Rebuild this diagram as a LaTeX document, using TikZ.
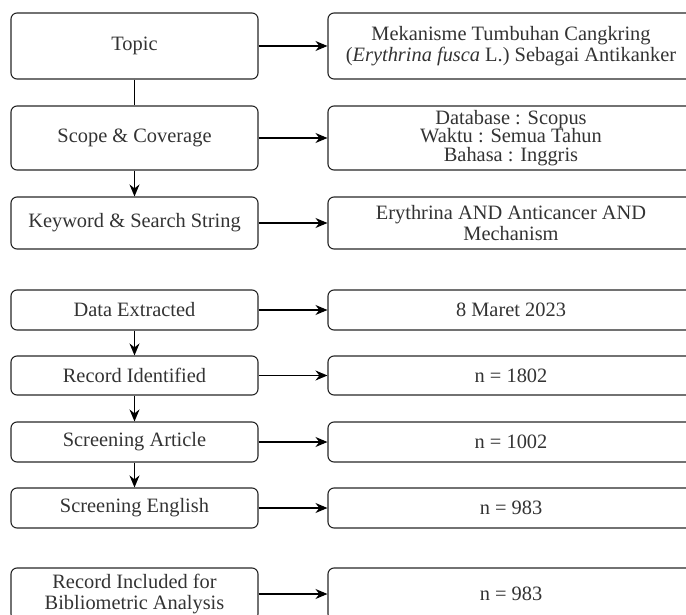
\documentclass[tikz,border=0pt]{standalone}
\usepackage{fontspec}
\setmainfont{Liberation Serif}
\usetikzlibrary{arrows.meta}

\begin{document}
\begin{tikzpicture}[x=0.5pt,y=-0.5pt,
    box/.style={draw=black!85, rounded corners=3pt, line width=0.55pt, align=center,
      inner sep=0pt, font=\fontsize{10.2}{10.6}\selectfont, text=black!80},
    leftbox/.style={box, minimum width=123.5pt},
    rightbox/.style={box, minimum width=183pt},
    arr/.style={-{Stealth[length=6pt,width=5pt]}, line width=0.55pt}]
        % Frame of the picture
        \useasboundingbox (0,0) rectangle (686,615);
        \clip (0,0) rectangle (686,615);

        % Left column
        \node[leftbox, minimum height=33pt] (topic) at (134.5,46) {Topic};
        \node[leftbox, minimum height=32pt] (scope) at (134.5,138) {Scope \& Coverage};
        \node[leftbox, minimum height=26pt] (keyword) at (134.5,223) {Keyword \& Search String};
        \node[leftbox, minimum height=20pt] (extracted) at (134.5,310) {Data Extracted};
        \node[leftbox, minimum height=19.5pt] (identified) at (134.5,375.5) {Record Identified};
        \node[leftbox, minimum height=20pt] (article) at (134.5,442) {Screening Article};
        \node[leftbox, minimum height=20pt] (english) at (134.5,508) {Screening English};
        \node[leftbox, minimum height=26pt] (included) at (134.5,594) {Record Included for\\Bibliometric Analysis};

        % Right column
        \node[rightbox, minimum height=33pt] (topicval) at (511,46)
          {Mekanisme Tumbuhan Cangkring\\(\textit{Erythrina fusca} L.) Sebagai Antikanker};
        \node[rightbox, minimum height=32pt] (scopeval) at (511,138)
          {Database : Scopus\\[-1.3pt]Waktu : Semua Tahun\\[-1.3pt]Bahasa : Inggris};
        \node[rightbox, minimum height=26pt] (keywordval) at (511,223)
          {Erythrina AND Anticancer AND\\Mechanism};
        \node[rightbox, minimum height=20pt] (extractedval) at (511,310) {8 Maret 2023};
        \node[rightbox, minimum height=19.5pt] (identifiedval) at (511,375.5) {n = 1802};
        \node[rightbox, minimum height=20pt] (articleval) at (511,442) {n = 1002};
        \node[rightbox, minimum height=20pt] (englishval) at (511,508) {n = 983};
        \node[rightbox, minimum height=26pt] (includedval) at (511,594) {n = 983};

        % Down links
        \draw[line width=0.55pt] (topic) -- (scope);
        \draw[arr] (scope) -- (keyword);
        \draw[arr] (extracted) -- (identified);
        \draw[arr] (identified) -- (article);
        \draw[arr] (article) -- (english);

        % Links to the right
        \foreach \a in {topic,scope,keyword,extracted,identified,article,english,included}
          \draw[arr] (\a.east) -- (\a val.west);
    \end{tikzpicture}
\end{document}
